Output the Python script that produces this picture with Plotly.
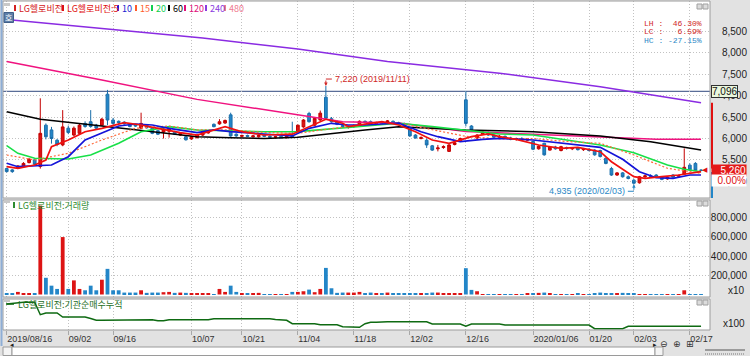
import pandas as pd
import plotly.graph_objects as go

# ---------------- data ----------------
KRX_HOLIDAYS = ['2019-09-12', '2019-09-13', '2019-10-03', '2019-10-09', '2019-12-25',
                '2019-12-31', '2020-01-01', '2020-01-24', '2020-01-27']
dates = [d.strftime('%Y-%m-%d') for d in pd.bdate_range('2019-08-16', '2020-02-19')
         if d.strftime('%Y-%m-%d') not in KRX_HOLIDAYS]

opens = [5300, 5270, 5310, 5350, 5440, 5500, 5350, 6310, 6200, 5960,
         5850, 6240, 6080, 6120, 6350, 6390, 6310, 6310, 7030, 6430,
         6400, 6380, 6310, 6320, 6240, 6310, 6240, 6180, 6150, 6170,
         6160, 6080, 6040, 5990, 6020, 6080, 6130, 6330, 6340, 6360,
         6550, 6100, 6050, 6070, 6040, 6040, 6080, 6050, 6030, 6050,
         6020, 6080, 6160, 6270, 6580, 6310, 6430, 6960, 6460, 6390,
         6300, 6270, 6280, 6330, 6400, 6390, 6340, 6370, 6350, 6400,
         6370, 6350, 6240, 6080, 6000, 5960, 5830, 5760, 5790, 5700,
         5860, 5930, 6900, 6290, 6010, 6100, 6140, 6080, 6030, 6050,
         6010, 5980, 6000, 5960, 5930, 5760, 5890, 5730, 5800, 5720,
         5790, 5760, 5780, 5740, 5750, 5730, 5720, 5540, 5300, 5150,
         5200, 5110, 5030, 4970, 5110, 5130, 5150, 5080, 5060, 5150,
         5120, 5170, 5380, 5420, 5260]
highs = [5320, 5290, 5380, 5450, 5540, 5520, 6935, 6350, 6270, 5990,
         6660, 6300, 6280, 6350, 6400, 6660, 6340, 6480, 7130, 6480,
         6420, 6400, 6330, 6340, 6600, 6330, 6260, 6200, 6240, 6250,
         6180, 6150, 6060, 6060, 6100, 6180, 6200, 6350, 6450, 6440,
         6600, 6120, 6090, 6090, 6080, 6090, 6100, 6080, 6060, 6070,
         6060, 6390, 6320, 6450, 6620, 6490, 6650, 7220, 6500, 6420,
         6340, 6300, 6320, 6420, 6420, 6420, 6390, 6400, 6430, 6420,
         6390, 6370, 6260, 6100, 6050, 6000, 5850, 5850, 5840, 5870,
         5920, 6020, 7100, 6310, 6100, 6180, 6160, 6100, 6080, 6070,
         6040, 6020, 6030, 6010, 5950, 5840, 5900, 5820, 5830, 5830,
         5810, 5800, 5800, 5780, 5770, 5750, 5740, 5560, 5340, 5220,
         5220, 5140, 5060, 5130, 5160, 5170, 5170, 5100, 5120, 5170,
         5160, 5770, 5420, 5450, 5290]
lows = [5210, 5200, 5290, 5330, 5420, 5380, 5300, 5980, 5880, 5820,
        5820, 6100, 6050, 6100, 6250, 6250, 6220, 6290, 6310, 6320,
        6340, 6320, 6260, 6270, 6220, 6230, 6100, 6080, 6000, 6020,
        6080, 6060, 5950, 5970, 6000, 6060, 6110, 6260, 6320, 6340,
        6040, 6040, 6030, 6030, 6020, 6020, 6030, 6010, 6000, 6000,
        6000, 6020, 6140, 6250, 6370, 6290, 6410, 6440, 6370, 6310,
        6250, 6230, 6250, 6310, 6350, 6330, 6320, 6340, 6340, 6330,
        6310, 6260, 6040, 6000, 5980, 5780, 5710, 5700, 5760, 5690,
        5840, 5920, 6280, 6180, 5990, 6080, 6060, 6010, 6000, 5990,
        5960, 5950, 5940, 5940, 5730, 5740, 5600, 5720, 5740, 5700,
        5740, 5730, 5720, 5710, 5700, 5600, 5560, 5400, 5130, 5130,
        5090, 5050, 4935, 4950, 5070, 5090, 5100, 5030, 5040, 5090,
        5100, 5150, 5250, 5240, 5240]
closes = [5230, 5230, 5360, 5420, 5520, 5400, 6120, 6040, 6000, 5860,
          6270, 6140, 6240, 6310, 6280, 6280, 6240, 6450, 6430, 6350,
          6370, 6340, 6280, 6290, 6350, 6250, 6120, 6100, 6220, 6230,
          6100, 6120, 5970, 6040, 6080, 6160, 6170, 6275, 6390, 6420,
          6060, 6060, 6070, 6050, 6060, 6070, 6050, 6030, 6040, 6020,
          6050, 6040, 6310, 6430, 6390, 6470, 6590, 6470, 6390, 6330,
          6280, 6280, 6300, 6400, 6370, 6350, 6370, 6360, 6410, 6350,
          6330, 6280, 6060, 6010, 6020, 5850, 5730, 5780, 5810, 5850,
          5900, 6000, 6350, 6200, 6080, 6150, 6080, 6030, 6050, 6010,
          5980, 6000, 5960, 5990, 5750, 5820, 5620, 5800, 5760, 5810,
          5770, 5780, 5740, 5760, 5720, 5620, 5580, 5420, 5150, 5200,
          5110, 5070, 4960, 5110, 5130, 5120, 5110, 5050, 5100, 5100,
          5140, 5330, 5270, 5260, 5260]
volumes = [12000, 12000, 27000, 14000, 8000, 10000, 926000, 174000, 92000, 58000,
           598000, 58000, 147000, 58000, 44000, 92000, 44000, 154000, 267000, 44000,
           44000, 20000, 20000, 20000, 44000, 17000, 20000, 20000, 24000, 27000,
           17000, 20000, 17000, 14000, 10000, 7000, 7000, 3000, 58000, 27000,
           92000, 27000, 7000, 7000, 7000, 17000, 5000, 5000, 5000, 5000,
           5000, 27000, 27000, 34000, 51000, 24000, 58000, 277000, 65000, 17000,
           20000, 20000, 20000, 27000, 10000, 20000, 10000, 7000, 20000, 10000,
           7000, 7000, 14000, 7000, 7000, 7000, 20000, 20000, 7000, 7000,
           7000, 14000, 274000, 48000, 34000, 5000, 5000, 5000, 5000, 5000,
           5000, 5000, 5000, 7000, 10000, 17000, 20000, 10000, 5000, 5000,
           5000, 5000, 7000, 5000, 5000, 10000, 20000, 10000, 10000, 10000,
           17000, 10000, 10000, 5000, 5000, 5000, 5000, 5000, 5000, 5000,
           5000, 44000, 5000, 5000, 3000]
inst_cum = [27000, 27500, 28500, 28700, 28700, 28700, 16300, 18000, 18000, 18000,
            14000, 14000, 14000, 14000, 14000, 12500, 10700, 10700, 10700, 11300,
            11300, 11300, 11300, 11300, 11300, 11300, 11300, 10300, 10300, 11300,
            11300, 11300, 11300, 11300, 11300, 11300, 11300, 12300, 12300, 12300,
            12300, 12300, 12300, 12300, 12300, 12300, 12300, 12300, 11500, 11000,
            10700, 7300, 7300, 7300, 7300, 7300, 6300, 6300, 6300, 6300,
            4300, 4300, 3700, 3700, 7300, 8700, 8700, 9300, 9300, 9300,
            9300, 9300, 9300, 9300, 9300, 9300, 7000, 7000, 7000, 7000,
            7000, 7000, 4700, 7000, 7000, 7000, 7000, 7000, 7000, 6000,
            6000, 6000, 6000, 6000, 6000, 6000, 6000, 5300, 5300, 5300,
            5300, 6000, 6000, 6000, 6000, 2300, 2300, 2300, 2300, 2300,
            2300, 4700, 4700, 4700, 4700, 4700, 4700, 4700, 4700, 4700,
            4700, 4700, 4700, 4700, 4700]

# moving-average lines (index of trading day, value)
ma5_at = [0, 2, 5, 7, 8, 11, 14, 17, 21, 24, 27, 31, 34, 39, 42, 46, 51, 54, 57, 60,
          61, 67, 70, 73, 76, 79, 83, 86, 88, 91, 95, 99, 102, 106, 108, 112, 114, 117, 120, 124]
ma5 = [5344, 5307, 5384, 5500, 5810, 5965, 6158, 6237, 6368, 6314, 6237, 6135, 6081, 6275,
       6158, 6081, 6100, 6275, 6447, 6354, 6275, 6391, 6314, 6158, 5965, 5888, 6042, 6105,
       6042, 5981, 5849, 5772, 5795, 5693, 5460, 5112, 5074, 5112, 5151, 5228]
ma10_at = [0, 2, 8, 11, 14, 17, 20, 23, 26, 29, 34, 37, 40, 46, 51, 54, 58, 61, 64, 70,
           74, 77, 81, 85, 88, 94, 100, 106, 110, 113, 116, 119, 122, 124]
ma10 = [5423, 5344, 5384, 5577, 5965, 6121, 6291, 6337, 6314, 6237, 6135, 6200, 6158,
        6105, 6058, 6237, 6354, 6314, 6314, 6360, 6158, 6042, 5926, 5981, 6005, 5965,
        5888, 5795, 5516, 5228, 5088, 5074, 5151, 5151]
ma15_at = [0, 5, 11, 17, 23, 29, 34, 40, 46, 52, 58, 64, 70, 76, 82, 88, 94, 100, 106, 112, 118, 124]
ma15 = [5616, 5500, 5656, 5965, 6237, 6291, 6200, 6200, 6140, 6120, 6230, 6320, 6360,
        6210, 6050, 5990, 6000, 5930, 5888, 5616, 5307, 5190]
ma20_at = [0, 2, 5, 11, 15, 20, 24, 29, 34, 40, 46, 52, 58, 61, 66, 70, 76, 82, 88, 94,
           100, 106, 112, 118, 121, 124]
ma20 = [5833, 5656, 5540, 5523, 5616, 5888, 6158, 6275, 6198, 6182, 6158, 6160, 6230,
        6260, 6320, 6354, 6275, 6182, 6105, 6081, 5965, 5849, 5670, 5384, 5284, 5228]
ma60_at = [0, 6, 17, 26, 34, 40, 46, 52, 58, 64, 70, 82, 94, 106, 115, 124]
ma60 = [6624, 6447, 6291, 6158, 6042, 6015, 6000, 6030, 6121, 6198, 6275, 6198, 6158,
        6058, 5926, 5733]
ma120_at = [0, 17, 34, 52, 60, 70, 82, 94, 106, 116, 124]
ma120 = [7790, 7360, 6910, 6550, 6390, 6360, 6160, 6100, 6035, 5985, 5980]
ma240_at = [0, 18, 35, 52, 68, 88, 106, 124]
ma240 = [8770, 8540, 8340, 8080, 7790, 7520, 7205, 6830]

ref_price = 7096
price_ticks = [5000, 5500, 6000, 6500, 7000, 7500, 8000, 8500]
vol_ticks = [200000, 400000, 600000, 800000]
tick_dates = ['2019-08-16', '2019-09-02', '2019-09-16', '2019-10-07', '2019-10-21', '2019-11-04',
              '2019-11-18', '2019-12-02', '2019-12-16', '2020-01-06', '2020-01-20', '2020-02-03',
              '2020-02-17']
tick_text = ['2019/08/16', '09/02', '09/16', '10/07', '10/21', '11/04', '11/18', '12/02',
             '12/16', '2020/01/06', '01/20', '02/03', '02/17']
legend_items = [('LG헬로비전', '#d42020'), ('LG헬로비전:5', '#e01010'), ('10', '#1c1cd0'),
                ('15', '#ff5a2a'), ('20', '#10d050'), ('60', '#000000'), ('120', '#e0107a'),
                ('240', '#8a3ae0'), ('480', '#f07a90')]

# ---------------- geometry helpers ----------------
W, H = 750, 356
ML, MR, MT, MB = 3, 3, 1, 26


def px(x):
    return (x - ML) / (W - ML - MR)


def py(y):
    return (H - MB - y) / (H - MT - MB)


RED_UP = '#dd1414'
BLUE_DN = '#2386c8'
KFONT = 'Noto Sans CJK KR'
NFONT = 'Liberation Sans'

fig = go.Figure()
fig.add_trace(go.Candlestick(
    x=dates, open=opens, high=highs, low=lows, close=closes,
    increasing=dict(line=dict(color='#c40000', width=1), fillcolor=RED_UP),
    decreasing=dict(line=dict(color='#1a6eaa', width=1), fillcolor=BLUE_DN),
    whiskerwidth=0, xaxis='x', yaxis='y', hoverinfo='skip', showlegend=False))

ma_specs = [
    (ma240_at, ma240, '#8a2be2', 1.5, 'solid'),
    (ma120_at, ma120, '#f0127f', 1.5, 'solid'),
    (ma60_at, ma60, '#000000', 1.5, 'solid'),
    (ma20_at, ma20, '#18e048', 1.6, 'solid'),
    (ma15_at, ma15, '#ff6a3a', 1.2, '2px,2px'),
    (ma10_at, ma10, '#1414d8', 1.7, 'solid'),
    (ma5_at, ma5, '#f01010', 1.7, 'solid'),
]
for idx, vals, color, width, dash in ma_specs:
    fig.add_trace(go.Scatter(x=[dates[i] for i in idx], y=vals, mode='lines',
                             line=dict(color=color, width=width, dash=dash),
                             xaxis='x', yaxis='y', hoverinfo='skip', showlegend=False))

vol_colors = [RED_UP if c > o else BLUE_DN for o, c in zip(opens, closes)]
fig.add_trace(go.Bar(x=dates, y=volumes, marker=dict(color=vol_colors, line=dict(width=0)),
                     xaxis='x2', yaxis='y2', hoverinfo='skip', showlegend=False))
fig.add_trace(go.Scatter(x=dates, y=inst_cum, mode='lines', line=dict(color='#0e6a12', width=1.5),
                         xaxis='x3', yaxis='y3', hoverinfo='skip', showlegend=False))

xdom = [0, px(710)]
dom_main = [py(198), py(1)]
dom_vol = [py(297), py(200)]
dom_inst = [0, py(299)]

GRID = '#c2c2c2'
GDASH = '1px,2px'
xcommon = dict(type='category', categoryorder='array', categoryarray=dates,
               range=[-0.66, 125.6], domain=xdom, showgrid=True, gridcolor=GRID,
               griddash=GDASH, gridwidth=1, tickvals=tick_dates, zeroline=False,
               showline=False, fixedrange=True)
ycommon = dict(anchor='free', position=1.0, side='left', showline=False, zeroline=False,
               ticks='', fixedrange=True, tickfont=dict(family=NFONT, size=10, color='#222'))

fig.update_layout(
    width=W, height=H, autosize=False,
    margin=dict(l=ML, r=MR, t=MT, b=MB, pad=0, autoexpand=False),
    paper_bgcolor='#e2e2e2', plot_bgcolor='#ffffff',
    showlegend=False, bargap=0.32, boxgap=0.3,
    xaxis=dict(**xcommon, anchor='y', showticklabels=False, ticks='',
               rangeslider=dict(visible=False)),
    xaxis2=dict(**xcommon, anchor='y2', showticklabels=False, ticks=''),
    xaxis3=dict(**xcommon, anchor='y3', showticklabels=True, ticktext=tick_text,
                ticks='outside', ticklen=4, tickcolor='#a8a8a8',
                ticklabelposition='outside right',
                tickfont=dict(family=NFONT, size=9, color='#333')),
    yaxis=dict(**ycommon, domain=dom_main, range=[4616, 9198], tickvals=price_ticks,
               tickformat=',d', showgrid=True, gridcolor=GRID, griddash=GDASH),
    yaxis2=dict(**ycommon, domain=dom_vol, range=[-26000, 984000], tickvals=vol_ticks,
                tickformat=',d', showgrid=True, gridcolor=GRID, griddash=GDASH),
    yaxis3=dict(**ycommon, domain=dom_inst, range=[1000, 32000], showticklabels=False,
                showgrid=False),
)

shapes = []
annos = []

# panel borders
for dom in (dom_main, dom_vol, dom_inst):
    shapes.append(dict(type='rect', xref='paper', yref='paper', x0=0, x1=px(710),
                       y0=dom[0], y1=dom[1], line=dict(color='#9c9c9c', width=1),
                       fillcolor='rgba(0,0,0,0)', layer='above'))
# left blue frame line
shapes.append(dict(type='line', xref='paper', yref='paper', x0=px(1.5), x1=px(1.5),
                   y0=py(0), y1=py(346), line=dict(color='#8eaed6', width=2)))

# reference level line
shapes.append(dict(type='line', xref='x domain', yref='y', x0=0, x1=1, y0=ref_price,
                   y1=ref_price, line=dict(color='#5a6d98', width=1.2), layer='below'))

last_close = closes[-1]
# right-side range bar
shapes.append(dict(type='line', xref='paper', yref='y', x0=px(712), x1=px(712),
                   y0=ma240[-1], y1=last_close + 40, line=dict(color='#e01010', width=2)))
shapes.append(dict(type='line', xref='paper', yref='y', x0=px(712), x1=px(712),
                   y0=last_close - 40, y1=4616, line=dict(color='#2386c8', width=2)))

# high / low markers
hi_i = max(range(len(highs)), key=lambda i: highs[i])
lo_i = min(range(len(lows)), key=lambda i: lows[i])
hi_v, lo_v = highs[hi_i], lows[lo_i]
HI_C, LO_C = '#d02828', '#2a88c6'
annos.append(dict(x=hi_i, y=hi_v, xref='x', yref='y', text='', showarrow=True, ax=0, ay=-7,
                  arrowhead=2, arrowsize=0.7, arrowwidth=1, arrowcolor=HI_C))
shapes.append(dict(type='line', xref='x', yref='y', xsizemode='pixel', ysizemode='pixel',
                   xanchor=hi_i, yanchor=hi_v, x0=0, x1=6, y0=7, y1=7,
                   line=dict(color=HI_C, width=1)))
hi_date = dates[hi_i].replace('-', '/')
annos.append(dict(x=hi_i, y=hi_v, xref='x', yref='y', text=f'{hi_v:,} ({hi_date})',
                  showarrow=False, xanchor='left', yanchor='middle', xshift=7, yshift=7,
                  font=dict(family=NFONT, size=9, color=HI_C)))
annos.append(dict(x=lo_i, y=lo_v, xref='x', yref='y', text='', showarrow=True, ax=0, ay=7,
                  arrowhead=2, arrowsize=0.7, arrowwidth=1, arrowcolor=LO_C))
shapes.append(dict(type='line', xref='x', yref='y', xsizemode='pixel', ysizemode='pixel',
                   xanchor=lo_i, yanchor=lo_v, x0=-6, x1=0, y0=-7, y1=-7,
                   line=dict(color=LO_C, width=1)))
lo_date = dates[lo_i].replace('-', '/')
annos.append(dict(x=lo_i, y=lo_v, xref='x', yref='y', text=f'{lo_v:,} ({lo_date})',
                  showarrow=False, xanchor='right', yanchor='middle', xshift=-7, yshift=-7,
                  font=dict(family=NFONT, size=9, color=LO_C)))

# LH / LC / HC statistics
lh = (hi_v - lo_v) / lo_v * 100
lc = (last_close - lo_v) / lo_v * 100
hc = (last_close - hi_v) / hi_v * 100
for k, (lab, v, col) in enumerate([('LH', lh, HI_C), ('LC', lc, HI_C), ('HC', hc, LO_C)]):
    txt = (f'{lab} : ' + f'{v:6.2f}%').replace(' ', '\u00a0')
    annos.append(dict(x=px(704), y=py(23.5 + 8.3 * k), xref='paper', yref='paper', text=txt,
                      showarrow=False, xanchor='right', yanchor='middle',
                      font=dict(family='Liberation Mono', size=8, color=col)))

# price labels on the right axis
annos.append(dict(x=px(711), y=ref_price, xref='paper', yref='y', text=f'{ref_price:,}',
                  showarrow=False, xanchor='left', yanchor='middle', bgcolor='#eaf7dc',
                  bordercolor='#303030', borderwidth=1, borderpad=0,
                  font=dict(family=NFONT, size=10, color='#111')))
annos.append(dict(x=px(747), y=last_close, xref='paper', yref='y', text=f'{last_close:,}',
                  showarrow=False, xanchor='right', yanchor='middle', bgcolor='#e41a1a',
                  width=34, align='right', borderpad=0,
                  font=dict(family=NFONT, size=10, color='#ffffff')))
chg = (closes[-1] - closes[-2]) / closes[-2] * 100
annos.append(dict(x=px(747), y=last_close, xref='paper', yref='y', text=f'{chg:.2f}%',
                  showarrow=False, xanchor='right', yanchor='middle', yshift=-10,
                  bgcolor='#ffffff', width=34, align='right', borderpad=0,
                  font=dict(family=NFONT, size=10, color='#e01010')))
annos.append(dict(x=px(709.5), y=last_close, xref='paper', yref='y', text='◀',
                  showarrow=False, xanchor='right', yanchor='middle',
                  font=dict(family='DejaVu Sans', size=7, color='#e01010')))
annos.append(dict(x=px(747), y=py(290), xref='paper', yref='paper', text='x10',
                  showarrow=False, xanchor='right', yanchor='middle',
                  font=dict(family=NFONT, size=10, color='#222')))
annos.append(dict(x=px(747), y=py(323), xref='paper', yref='paper', text='x100',
                  showarrow=False, xanchor='right', yanchor='middle',
                  font=dict(family=NFONT, size=10, color='#222')))

# top legend row
legend_x = [14, 62, 117, 135, 151, 168, 184, 205, 224]
for (txt, col), x0 in zip(legend_items, legend_x):
    shapes.append(dict(type='rect', xref='paper', yref='paper', x0=px(x0), x1=px(x0 + 2),
                       y0=py(11), y1=py(5), fillcolor=col, line=dict(width=0)))
    annos.append(dict(x=px(x0 + 3), y=py(8), xref='paper', yref='paper', text=txt,
                      showarrow=False, xanchor='left', yanchor='middle',
                      font=dict(family=KFONT, size=9, color=col)))
# volume legend
shapes.append(dict(type='rect', xref='paper', yref='paper', x0=px(13), x1=px(15),
                   y0=py(208), y1=py(202), fillcolor='#2e8b2e', line=dict(width=0)))
annos.append(dict(x=px(16), y=py(205), xref='paper', yref='paper', text='LG헬로비전:거래량',
                  showarrow=False, xanchor='left', yanchor='middle',
                  font=dict(family=KFONT, size=9, color='#2e8b2e')))
# institution legend
shapes.append(dict(type='line', xref='paper', yref='paper', x0=px(6), x1=px(14),
                   y0=py(304), y1=py(304), line=dict(color='#0e6a12', width=1.5)))
annos.append(dict(x=px(16), y=py(304), xref='paper', yref='paper', text='LG헬로비전:기관순매수누적',
                  showarrow=False, xanchor='left', yanchor='middle',
                  font=dict(family=KFONT, size=9, color='#1e6e1e')))

# small panel buttons
for ytop in (4, 201, 300):
    for bx in (697, 703):
        shapes.append(dict(type='rect', xref='paper', yref='paper', x0=px(bx), x1=px(bx + 5),
                           y0=py(ytop + 5), y1=py(ytop), fillcolor='#dcdcdc',
                           line=dict(color='#a0a0a0', width=1), layer='above'))
for ytop in (3, 200, 299):
    shapes.append(dict(type='rect', xref='paper', yref='paper', x0=px(4), x1=px(10),
                       y0=py(ytop + 3), y1=py(ytop), fillcolor='#c8c8c8',
                       line=dict(width=0), layer='above'))

# "호" badge
shapes.append(dict(type='rect', xref='paper', yref='paper', x0=px(4), x1=px(13.5),
                   y0=py(22.5), y1=py(12.5), fillcolor='#5f7fa8',
                   line=dict(color='#3f5f88', width=1), layer='above'))
annos.append(dict(x=px(8.8), y=py(17.5), xref='paper', yref='paper', text='호',
                  showarrow=False, xanchor='center', yanchor='middle',
                  font=dict(family=KFONT, size=8, color='#ffffff')))

# bottom scroll bar
shapes.append(dict(type='rect', xref='paper', yref='paper', x0=px(3), x1=px(12),
                   y0=py(355.5), y1=py(347), fillcolor='#f4f4f4',
                   line=dict(color='#9a9a9a', width=1)))
annos.append(dict(x=px(7.5), y=py(351), xref='paper', yref='paper', text='◂',
                  showarrow=False, font=dict(family='DejaVu Sans', size=7, color='#222')))
shapes.append(dict(type='rect', xref='paper', yref='paper', x0=px(12), x1=px(655),
                   y0=py(355.5), y1=py(347), fillcolor='#ffffff',
                   line=dict(color='#9a9a9a', width=1)))
shapes.append(dict(type='rect', xref='paper', yref='paper', x0=px(655), x1=px(663),
                   y0=py(355.5), y1=py(347), fillcolor='#f4f4f4',
                   line=dict(color='#9a9a9a', width=1)))
annos.append(dict(x=px(659), y=py(351), xref='paper', yref='paper', text='▸',
                  showarrow=False, font=dict(family='DejaVu Sans', size=7, color='#222')))
for cx, sym in ((670, '⊖'), (683, '⊕'), (696, '⊞')):
    annos.append(dict(x=px(cx), y=py(351), xref='paper', yref='paper', text=sym,
                      showarrow=False, font=dict(family='DejaVu Sans', size=9, color='#333')))
shapes.append(dict(type='line', xref='paper', yref='paper', x0=px(705), x1=px(745),
                   y0=py(350), y1=py(350), line=dict(color='#555', width=1)))
shapes.append(dict(type='line', xref='paper', yref='paper', x0=px(705), x1=px(745),
                   y0=py(354), y1=py(354), line=dict(color='#777', width=1, dash='1px,1px')))

fig.update_layout(shapes=shapes, annotations=annos)
fig.write_html('out.html', config={'displayModeBar': False},
               post_script="document.body.style.margin='0';document.body.style.overflow='hidden';")
